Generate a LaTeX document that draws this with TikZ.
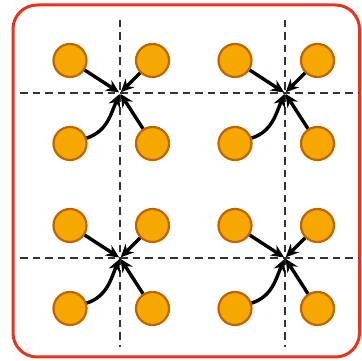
\documentclass[tikz,border=0pt]{standalone}
\usetikzlibrary{arrows.meta}
\definecolor{framered}{HTML}{E8341E}
\definecolor{dotfill}{HTML}{F6A800}
\definecolor{dotline}{HTML}{C06400}
\begin{document}
\begin{tikzpicture}[x=1pt,y=1pt,
  dot/.style={circle,draw=dotline,fill=dotfill,line width=2.2pt,minimum size=33pt,inner sep=0pt},
  axis/.style={draw=black!80,line width=2.8pt,dash pattern=on 7.5pt off 5pt},
  flow/.style={line width=3.4pt,-{Stealth[length=13pt,width=12pt]},shorten >=1pt}]
\useasboundingbox (0,0) rectangle (362,361);
% outer frame
\draw[framered,line width=3pt,rounded corners=24pt] (13,4) rectangle (359.5,356);
% dashed cross lines
\foreach \y in {268,103} \draw[axis] (20,\y) -- (358,\y);
\foreach \x in {120,285} \draw[axis] (\x,341) -- (\x,14);
% four groups of dots flowing into a crossing
\foreach \cx/\cy/\g in {120/268/a, 285/268/b, 120/103/c, 285/103/d} {
  \coordinate (\g c) at (\cx,\cy);
  \node[dot] (\g tl) at (\cx-50,\cy+32.5) {};
  \node[dot] (\g tr) at (\cx+32.5,\cy+32.5) {};
  \node[dot] (\g bl) at (\cx-50,\cy-50.5) {};
  \node[dot] (\g br) at (\cx+32.5,\cy-50.5) {};
  \draw[flow] (\g tl) -- (\g c);
  \draw[flow] (\g tr) -- (\g c);
  \draw[flow] (\g br) -- (\g c);
  \draw[flow] (\g bl) to[out=18,in=-114] (\g c);
}
\end{tikzpicture}
\end{document}
